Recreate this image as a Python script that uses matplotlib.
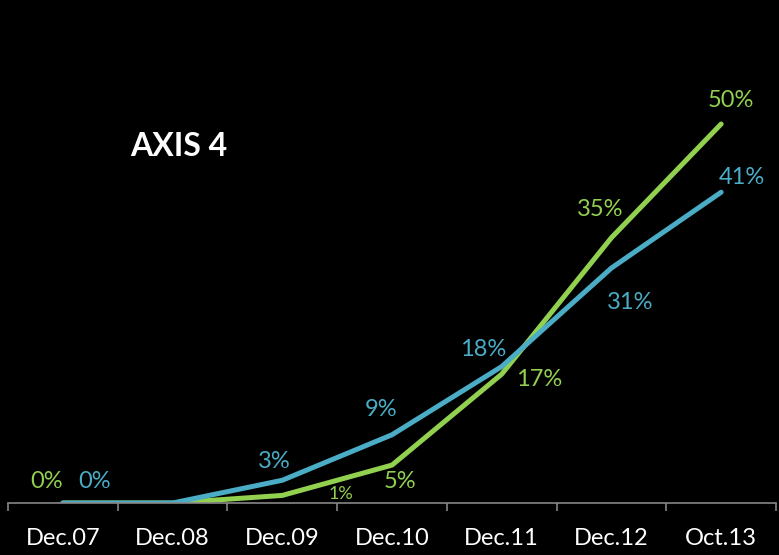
import numpy as np
import matplotlib
matplotlib.use("Agg")
import matplotlib.pyplot as plt

categories = ["Dec.07", "Dec.08", "Dec.09", "Dec.10", "Dec.11", "Dec.12", "Oct.13"]
green_vals = [0, 0, 1, 5, 17, 35, 50]
blue_vals = [0, 0, 3, 9, 18, 31, 41]

# label offsets in pixels (dx, dy); None = no label
green_off = [(-16, 22), None, (59, 1), (8, -16), (37, -5), (-11, 28), (10, 23)]
blue_off = [(32, 22), None, (-8, 19), (-11, 25), (-19, 17), (19, -34), (21, 15)]
green_fs = [17, 17, 13, 17, 17, 17, 17]

gcol = "#92D050"
bcol = "#4BACC6"

plt.rcParams['font.family'] = ['Lato', 'DejaVu Sans']

fig = plt.figure(figsize=(7.79, 5.55), dpi=100, facecolor="black")
ax = fig.add_axes([8/779, 52/555, 768/779, 503/555])
ax.set_facecolor("black")

x = np.arange(len(categories))
ax.plot(x, green_vals, color=gcol, lw=3.6, solid_capstyle="round")
ax.plot(x, blue_vals, color=bcol, lw=3.6, solid_capstyle="round")

for i in range(len(categories)):
    if green_off[i] is not None:
        ax.annotate(f"{green_vals[i]}%", (x[i], green_vals[i]), xytext=green_off[i],
                    textcoords="offset pixels", ha="center", va="center",
                    color=gcol, fontsize=green_fs[i])
    if blue_off[i] is not None:
        ax.annotate(f"{blue_vals[i]}%", (x[i], blue_vals[i]), xytext=blue_off[i],
                    textcoords="offset pixels", ha="center", va="center",
                    color=bcol, fontsize=17)

ax.set_xlim(-0.5, len(categories) - 0.5)
ax.set_ylim(0, 503/7.58)
ax.set_xticks(x)
ax.set_xticklabels(categories, color="white", fontsize=17)
ax.set_xticks(np.arange(-0.5, len(categories)), minor=True)
ax.tick_params(axis="x", which="major", length=0, pad=18)
ax.tick_params(axis="x", which="minor", length=6, width=1.2, color="#868686", direction="out")
ax.set_yticks([])
for s in ["top", "left", "right"]:
    ax.spines[s].set_visible(False)
ax.spines["bottom"].set_color("#868686")
ax.spines["bottom"].set_linewidth(1.2)

fig.text(179/779, 1 - 146/555, "AXIS 4", color="white", fontsize=23,
         fontweight="bold", ha="center", va="center")

fig.savefig("out.png", dpi=100, facecolor="black")
